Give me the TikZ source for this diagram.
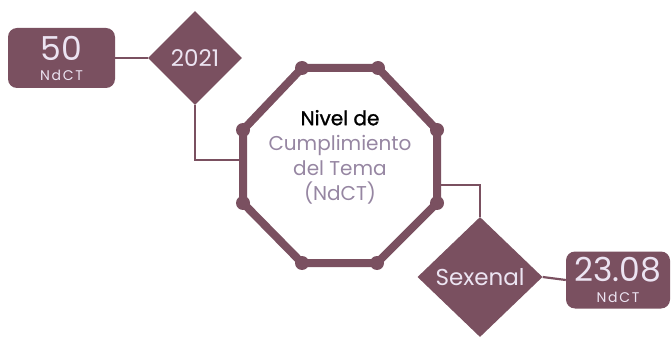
\documentclass[tikz,border=0pt]{standalone}
\usepackage{fontspec}
\setmainfont{Poppins}
\newfontfamily\spacedfont[LetterSpace=12]{Poppins}
\newfontfamily\nivfont[FakeBold=1.3]{Poppins}
\usetikzlibrary{shapes.geometric}
\definecolor{mauve}{RGB}{122,80,96}
\definecolor{lav}{RGB}{150,134,162}
\definecolor{boxtext}{RGB}{236,228,242}
\tikzset{
  valbox/.style={fill=mauve, rounded corners=9pt, text=boxtext, align=center, inner sep=0pt,
    font=\fontsize{14}{14}\selectfont},
  yearbox/.style={diamond, fill=mauve, text=boxtext, inner sep=0pt, font=\fontsize{23}{23}\selectfont},
  link/.style={draw=mauve, line width=2.2pt},
  octline/.style={draw=mauve, line width=8pt, line join=round},
  octdot/.style={fill=mauve}
}
\begin{document}
\begin{tikzpicture}[x=1pt,y=-1pt]
\useasboundingbox (0,0) rectangle (672,339);
% boxes
\node[valbox, minimum width=107pt, minimum height=60pt] (b50) at (61.5,58)
  {{\fontsize{33}{33}\selectfont 50}\\[6pt]{\spacedfont NdCT}};
\node[yearbox, minimum width=94pt, minimum height=94pt] (d2021) at (195,58) {2021};
\node[valbox, minimum width=104pt, minimum height=57pt] (b23) at (618,280)
  {{\fontsize{33}{33}\selectfont 23.08}\\[7pt]{\spacedfont NdCT}};
\node[yearbox, minimum width=125pt, minimum height=120pt] (dsex) at (480,277) {Sexenal};
% octagon vertices
\coordinate (o1) at (302,68);
\coordinate (o2) at (378,68);
\coordinate (o3) at (437,130);
\coordinate (o4) at (437,203);
\coordinate (o5) at (377,263);
\coordinate (o6) at (302,263);
\coordinate (o7) at (243,203);
\coordinate (o8) at (243,130);
\coordinate (oin) at (243,160);
\coordinate (oout) at (437,185);
% connectors
\draw[link] (b50.east) -- (d2021.west);
\draw[link] (d2021.south) |- (oin);
\draw[link] (oout) -| (dsex.north);
\draw[link] (dsex.east) -- (b23.west);
% octagon
\draw[octline] (o1) -- (o2) -- (o3) -- (o4) -- (o5) -- (o6) -- (o7) -- (o8) -- cycle;
\foreach \p in {o1,o2,o3,o4,o5,o6,o7,o8} \fill[octdot] (\p) circle (7pt);
\node[align=center, font=\fontsize{20}{25}\selectfont, text=lav] (oct) at (340,157)
  {\textcolor{black}{\nivfont Nivel de}\\Cumplimiento\\del Tema\\(NdCT)};
\end{tikzpicture}
\end{document}
